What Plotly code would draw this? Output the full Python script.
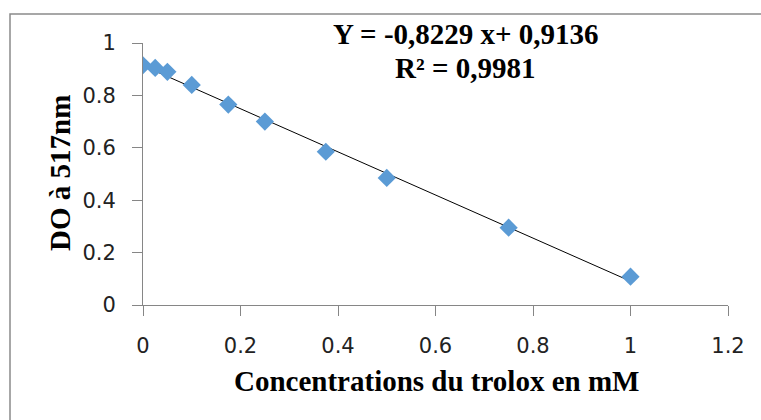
import plotly.graph_objects as go

# Data
conc = [0, 0.025, 0.05, 0.1, 0.175, 0.25, 0.375, 0.5, 0.75, 1.0]
do517 = [0.915, 0.905, 0.89, 0.84, 0.765, 0.70, 0.585, 0.485, 0.295, 0.108]
slope = -0.8229
intercept = 0.9136
eq_text = "Y = -0,8229 x+ 0,9136"
r2_text = "R² = 0,9981"
x_title = "Concentrations du trolox en mM"
y_title = "DO à 517nm"
x_ticks = [0, 0.2, 0.4, 0.6, 0.8, 1.0, 1.2]
x_ticklabels = ["0", "0.2", "0.4", "0.6", "0.8", "1", "1.2"]
y_ticks = [0, 0.2, 0.4, 0.6, 0.8, 1.0]
y_ticklabels = ["0", "0.2", "0.4", "0.6", "0.8", "1"]

W, H = 761, 420
L, R, T, B = 143, 728, 43, 305  # plot area pixel bounds


def px(x):
    return (x - L) / (R - L)


def py(y):
    return (B - y) / (B - T)


fit_x = [min(conc), max(conc)]
fit_y = [slope * v + intercept for v in fit_x]

fig = go.Figure()
fig.add_trace(go.Scatter(x=fit_x, y=fit_y, mode="lines",
                         line=dict(color="black", width=1), showlegend=False,
                         hoverinfo="skip"))
fig.add_trace(go.Scatter(x=conc, y=do517, mode="markers",
                         marker=dict(symbol="diamond", size=14, color="#5B9BD5",
                                     line=dict(width=0)),
                         showlegend=False))

axis_common = dict(showgrid=False, zeroline=False, showline=True,
                   linecolor="#868686", linewidth=1, ticks="outside",
                   ticklen=10, tickcolor="#868686", tickwidth=1,
                   tickfont=dict(family="DejaVu Sans", size=21, color="#222"))

fig.update_xaxes(range=[0, 1.2], tickvals=x_ticks, ticktext=x_ticklabels,
                 ticklabelstandoff=12, **axis_common)
fig.update_yaxes(range=[0, 1], tickvals=y_ticks, ticktext=y_ticklabels,
                 ticklabelstandoff=12, **axis_common)

serif = dict(family="Liberation Serif", size=29, color="black")
fig.add_annotation(x=px(436), y=py(381), xref="paper", yref="paper",
                   text="<b>" + x_title + "</b>", showarrow=False, font=serif,
                   xanchor="center", yanchor="middle")
fig.add_annotation(x=px(60), y=py(173), xref="paper", yref="paper",
                   text="<b>" + y_title + "</b>", showarrow=False, font=serif,
                   textangle=-90, xanchor="center", yanchor="middle")
fig.add_annotation(x=px(466), y=py(34), xref="paper", yref="paper",
                   text="<b>" + eq_text + "</b>", showarrow=False, font=serif,
                   xanchor="center", yanchor="middle")
fig.add_annotation(x=px(465), y=py(68), xref="paper", yref="paper",
                   text="<b>" + r2_text + "</b>", showarrow=False, font=serif,
                   xanchor="center", yanchor="middle")

# outer chart border (extends beyond the visible window on right/bottom)
fig.add_shape(type="rect", xref="paper", yref="paper",
              x0=px(10), x1=px(775), y0=py(435), y1=py(14),
              line=dict(color="#8a8a8a", width=1.5), layer="below")

fig.update_layout(width=W, height=H, margin=dict(l=L, r=W - R, t=T, b=H - B),
                  plot_bgcolor="white", paper_bgcolor="white")

fig.write_html("out.html")
